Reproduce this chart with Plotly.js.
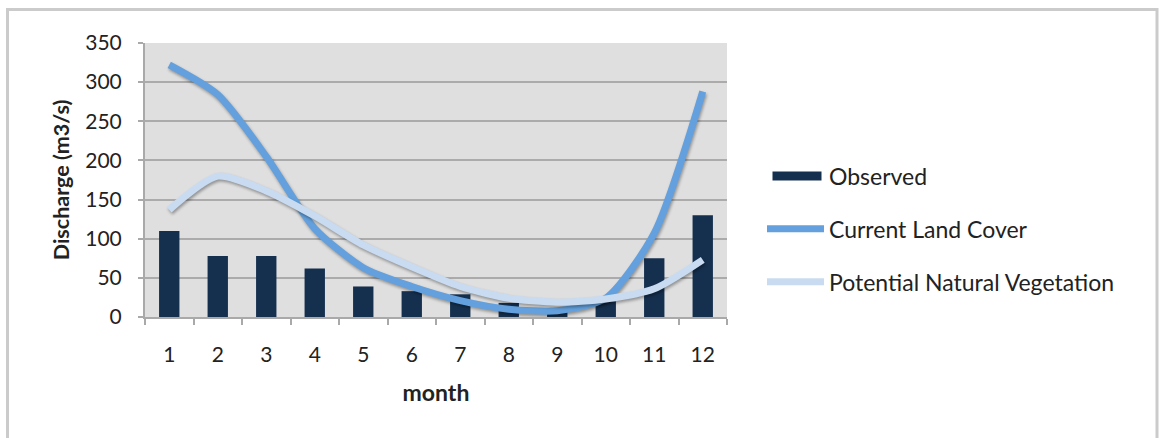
<!DOCTYPE html>
<html>
<head>
<meta charset="utf-8">
<script src="https://cdn.plot.ly/plotly-3.0.1.min.js"></script>
<style>
  html, body { margin: 0; padding: 0; background: #ffffff; }
  #chart { width: 1159px; height: 438px; }
</style>
</head>
<body>
<div id="chart"></div>
<script>
// Monthly discharge (m3/s)
const months = ['1', '2', '3', '4', '5', '6', '7', '8', '9', '10', '11', '12'];
const observed = [110, 78, 78, 62, 39, 33, 29, 18, 9, 20, 75, 130];
const currentLandCover = [322, 284, 205, 113, 63, 39, 21, 10, 8, 24, 107, 288];
const potentialNaturalVeg = [137, 180, 161, 129, 92, 64, 39, 24, 19, 23, 36, 73];
const yTicks = [0, 50, 100, 150, 200, 250, 300, 350];

const FONT = 'Lato, "Open Sans", sans-serif';

const traces = [
  {
    type: 'bar', name: 'Observed', x: months, y: observed,
    marker: { color: '#15304f' }, width: 0.42,
    legendgroup: 'obs'
  },
  {
    type: 'scatter', mode: 'lines', name: 'Current Land Cover',
    x: months, y: currentLandCover,
    line: { color: '#63a0dd', width: 7, shape: 'spline', smoothing: 0.7 },
    legendgroup: 'clc'
  },
  {
    type: 'scatter', mode: 'lines', name: 'Potential Natural Vegetation',
    x: months, y: potentialNaturalVeg,
    line: { color: '#c8dbf1', width: 7, shape: 'spline', smoothing: 0.7 },
    legendgroup: 'pnv'
  }
];

// plot area in px: x 145..727, y 43..317
const L = 145, R = 727, T = 43, B = 317, W = 1159, H = 438;
const px = v => (v - L) / (R - L);
const py = v => (B - v) / (B - T);

const layout = {
  width: W, height: H,
  margin: { l: L, r: W - R, t: T, b: H - B, pad: 0 },
  paper_bgcolor: '#ffffff',
  plot_bgcolor: '#dfdfdf',
  font: { family: FONT, size: 20, color: '#222222' },
  showlegend: true,
  legend: {
    x: px(762), xanchor: 'left',
    y: py(229), yanchor: 'middle',
    traceorder: 'grouped', tracegroupgap: 20,
    itemwidth: 57,
    font: { family: FONT, size: 23, color: '#222222' },
    bgcolor: 'rgba(0,0,0,0)'
  },
  xaxis: {
    type: 'category',
    range: [-0.5, 11.5],
    tickson: 'boundaries',
    ticks: 'outside', ticklen: 6, tickwidth: 2, tickcolor: '#a9a9a9',
    showline: true, linecolor: '#a9a9a9', linewidth: 2,
    showgrid: false, zeroline: false,
    ticklabelstandoff: 18,
    tickfont: { family: FONT, size: 21, color: '#222222' },
    title: { text: 'month', standoff: 20, font: { family: FONT, size: 23, color: '#222222', weight: 'bold' } }
  },
  yaxis: {
    range: [0, 350],
    tickvals: yTicks,
    ticks: 'outside', ticklen: 5, tickwidth: 2, tickcolor: '#a9a9a9',
    showline: true, linecolor: '#a9a9a9', linewidth: 2,
    showgrid: true, gridcolor: '#ababab', gridwidth: 2,
    zeroline: false,
    ticklabelstandoff: 12,
    tickfont: { family: FONT, size: 21, color: '#222222' },
    title: { text: 'Discharge (m3/s)', standoff: 10, font: { family: FONT, size: 21.5, color: '#222222', weight: 'bold' } }
  },
  shapes: [
    {
      type: 'rect', xref: 'paper', yref: 'paper', layer: 'below',
      x0: px(7.5), x1: px(1157), y0: py(470), y1: py(9.5),
      line: { color: '#cbcbcb', width: 3 }, fillcolor: 'rgba(0,0,0,0)'
    }
  ]
};

// legend swatch for the bar series: a wide flat strip instead of a square,
// and a soft drop shadow under the curves
function decorate(gd) {
  gd.querySelectorAll('.scatterlayer .js-line').forEach(p => {
    p.style.filter = 'drop-shadow(1px 2px 1.5px rgba(0,0,0,0.35))';
  });
  const items = gd.querySelectorAll('.legend .traces');
  if (items.length) {
    items[0].querySelectorAll('.legendpoints path').forEach(p => {
      p.setAttribute('d', 'M-23,-4.5h49v9h-49Z');
    });
  }
}

Plotly.newPlot('chart', traces, layout, { displayModeBar: false, staticPlot: true }).then(gd => {
  decorate(gd);
  gd.on('plotly_afterplot', () => decorate(gd));
  setTimeout(() => decorate(gd), 0);
  setTimeout(() => decorate(gd), 100);
});
</script>
</body>
</html>
